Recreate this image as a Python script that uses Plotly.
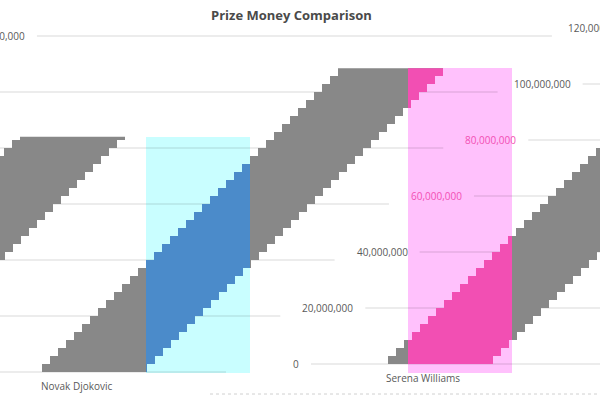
import math
import plotly.graph_objects as go

# ---------------- data ----------------
players = ["Serena Williams", "Novak Djokovic"]
prize_money = [84_000_000, 108_500_000]
tick_values = [0, 20_000_000, 40_000_000, 60_000_000, 80_000_000, 100_000_000, 120_000_000]
tick_labels = ["0", "20,000,000", "40,000,000", "60,000,000", "80,000,000", "100,000,000", "120,000,000"]
chart_title = "Prize Money Comparison"

# ---------------- layout / style constants ----------------
W, H = 600, 396
BASE_PY = 364            # pixel row of value 0 (right part)
PX_PER_DOLLAR = 2.8 / 1_000_000
WRAP_DY = 8              # wrapped part sits 8 px lower
SHEAR = 1.0
STEP = 8
BAR_LEFT0 = 384
BAR_SPACING = 254
BAR_W = 105
LABEL_RIGHT0 = 301
LABEL_SHEAR = 0.97
GRID_GAP = 10
GRID_LEN = 515
TINT_X0 = [146, 408]
TINT_W = 104
TINT_BOTTOM_PY = BASE_PY + 9
TINT_LIGHT = ["#c9feff", "#ffc1fc"]
TINT_DARK = ["#4b8bca", "#f24fb3"]
GRAY = "#888888"
TEXT = "#595959"
FONT = "Open Sans"
FONT_SIZE = 10
CHAR_W = 5.3


def val(py):
    return (BASE_PY - py) / PX_PER_DOLLAR


def copies(x0, x1, p0, p1):
    out = []
    for dx, dy in ((0, 0), (-W, WRAP_DY)):
        a, b = max(x0 + dx, 0), min(x1 + dx, W)
        if b > a:
            out.append((a, b, p0 + dy, p1 + dy))
    return out


def poly(pieces):
    xs, ys = [], []
    for a, b, p0, p1 in pieces:
        xs += [a, b, b, a, a, None]
        ys += [val(p1), val(p1), val(p0), val(p0), val(p1), None]
    return xs, ys


fig = go.Figure()

# tint rectangles (bars)
tints = []
for i, v in enumerate(prize_money):
    h = v * PX_PER_DOLLAR
    top_py = BASE_PY + WRAP_DY - h
    tints.append((TINT_X0[i], TINT_X0[i] + TINT_W, top_py, TINT_BOTTOM_PY))
    fig.add_trace(go.Bar(
        x=[TINT_X0[i] + TINT_W / 2], y=[val(top_py) - val(TINT_BOTTOM_PY)],
        base=[val(TINT_BOTTOM_PY)], width=[TINT_W],
        marker=dict(color=TINT_LIGHT[i], line=dict(width=0)),
        hoverinfo="skip", showlegend=False))

# gridlines
gx, gy = [], []
label_pos = []
for v in tick_values:
    h = v * PX_PER_DOLLAR
    py = BASE_PY - h
    right = LABEL_RIGHT0 + LABEL_SHEAR * h
    label_pos.append((right, py))
    s = right + GRID_GAP
    for a, b, p0, _ in copies(s, s + GRID_LEN, py, py):
        gx += [a, b, None]
        gy += [val(p0), val(p0), None]
fig.add_trace(go.Scatter(x=gx, y=gy, mode="lines",
                         line=dict(color="rgba(0,0,0,0.15)", width=1),
                         hoverinfo="skip", showlegend=False))

# sheared bars
gray_pieces, dark_pieces = [], [[] for _ in tints]
for i, v in enumerate(prize_money):
    htot = v * PX_PER_DOLLAR
    u0 = BAR_LEFT0 + i * BAR_SPACING
    n = math.ceil(htot / STEP)
    for k in range(n):
        h0, h1 = k * STEP, min((k + 1) * STEP, htot)
        shift = SHEAR * (k + 0.5) * STEP
        for piece in copies(u0 + shift, u0 + shift + BAR_W, BASE_PY - h1, BASE_PY - h0):
            gray_pieces.append(piece)
            a, b, p0, p1 = piece
            for t, (tx0, tx1, tp0, tp1) in enumerate(tints):
                xa, xb = max(a, tx0), min(b, tx1)
                pa, pb = max(p0, tp0), min(p1, tp1)
                if xb > xa and pb > pa:
                    dark_pieces[t].append((xa, xb, pa, pb))

xs, ys = poly(gray_pieces)
fig.add_trace(go.Scatter(x=xs, y=ys, mode="lines", fill="toself", fillcolor=GRAY,
                         line=dict(width=0, color=GRAY), hoverinfo="skip", showlegend=False))
for t, pcs in enumerate(dark_pieces):
    if pcs:
        xs, ys = poly(pcs)
        fig.add_trace(go.Scatter(x=xs, y=ys, mode="lines", fill="toself", fillcolor=TINT_DARK[t],
                                 line=dict(width=0, color=TINT_DARK[t]), hoverinfo="skip",
                                 showlegend=False))

annotations = []


def visible(x0, x1):
    return x1 > 0 and x0 < W


# y tick labels
for (right, py), txt in zip(label_pos, tick_labels):
    width = len(txt) * CHAR_W
    for a_right, ppy in ((right, py), (right - W, py + WRAP_DY)):
        if not visible(a_right - width, a_right):
            continue
        center = a_right - width / 2
        color = TEXT
        for t, (tx0, tx1, tp0, tp1) in enumerate(tints):
            if tx0 <= center <= tx1 and tp0 <= ppy <= tp1:
                color = TINT_DARK[t]
        annotations.append(dict(x=a_right / W, y=1 - ppy / H, xref="paper", yref="paper",
                                xanchor="right", yanchor="middle", text=txt, showarrow=False,
                                font=dict(family=FONT, size=FONT_SIZE, color=color)))
# category labels
for i, name in enumerate(players):
    c = BAR_LEFT0 + i * BAR_SPACING + BAR_W / 2 - 14 * SHEAR
    width = len(name) * CHAR_W
    for cx, cpy in ((c, BASE_PY + 14), (c - W, BASE_PY + 14 + WRAP_DY)):
        if not visible(cx - width / 2, cx + width / 2):
            continue
        annotations.append(dict(x=cx / W, y=1 - cpy / H, xref="paper", yref="paper",
                                xanchor="center", yanchor="middle", text=name, showarrow=False,
                                font=dict(family=FONT, size=FONT_SIZE, color=TEXT)))
# title
annotations.append(dict(x=0.485, y=1 - 15 / H, xref="paper", yref="paper", xanchor="center",
                        yanchor="middle", text="<b>" + chart_title + "</b>", showarrow=False,
                        font=dict(family=FONT, size=13, color="#4a4a4a")))

fig.update_layout(
    width=W, height=H, autosize=False,
    margin=dict(l=0, r=0, t=0, b=0, pad=0),
    paper_bgcolor="white", plot_bgcolor="white",
    xaxis=dict(range=[0, W], visible=False, fixedrange=True),
    yaxis=dict(range=[val(H), val(0)], visible=False, fixedrange=True),
    bargap=0, barmode="overlay",
    annotations=annotations,
    shapes=[dict(type="line", xref="paper", yref="paper", x0=210 / W, x1=1,
                 y0=1 - 394 / H, y1=1 - 394 / H, line=dict(color="#d0d0d0", width=1, dash="dot"))],
)

fig.write_html("out.html", config={"displayModeBar": False},
               post_script="document.body.style.margin='0';document.body.style.overflow='hidden';")
